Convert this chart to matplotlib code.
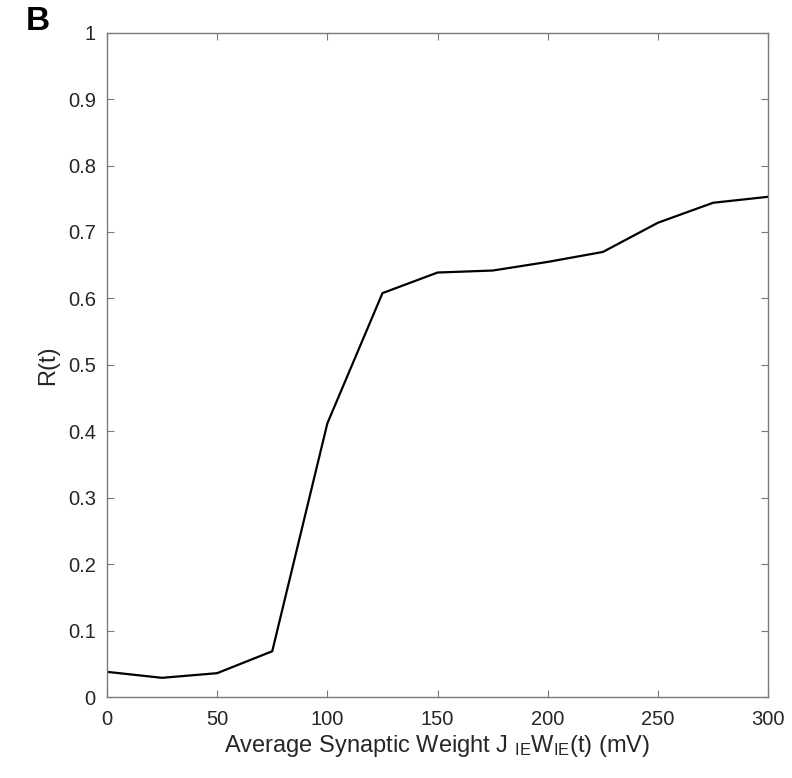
import matplotlib
matplotlib.use('Agg')
import matplotlib.pyplot as plt

plt.rcParams['font.family'] = ['Liberation Sans', 'DejaVu Sans']
plt.rcParams['mathtext.default'] = 'regular'

# values
weights = [0, 25, 50, 75, 100, 125, 150, 175, 200, 225, 250, 275, 300]
r_vals = [0.038, 0.029, 0.036, 0.069, 0.412, 0.608, 0.639, 0.642, 0.655, 0.670, 0.714, 0.744, 0.753]

x_ticks = [0, 50, 100, 150, 200, 250, 300]
y_ticks = [0, 0.1, 0.2, 0.3, 0.4, 0.5, 0.6, 0.7, 0.8, 0.9, 1]
y_labels = ['0', '0.1', '0.2', '0.3', '0.4', '0.5', '0.6', '0.7', '0.8', '0.9', '1']

fig = plt.figure(figsize=(7.92, 7.78), dpi=100)
ax = fig.add_axes([0.135, 0.104, 0.835, 0.854])

ax.plot(weights, r_vals, color='black', linewidth=1.6)

ax.set_xlim(0, 300)
ax.set_ylim(0, 1)
ax.set_xticks(x_ticks)
ax.set_yticks(y_ticks)
ax.set_yticklabels(y_labels)

text_color = '#262626'
ax.tick_params(direction='in', length=5, width=0.8, color='#7a7a7a',
               top=True, right=True, labelsize=14.5, labelcolor=text_color)
ax.tick_params(axis='x', pad=9)
ax.tick_params(axis='y', pad=8)
for s in ax.spines.values():
    s.set_color('#7a7a7a')
    s.set_linewidth(1.0)

ax.set_xlabel(r'Average Synaptic Weight J $_{IE}$W$_{IE}$(t) (mV)',
              fontsize=17, color=text_color, labelpad=3)
ax.set_ylabel('R(t)', fontsize=17, color=text_color, labelpad=6)

fig.text(0.033, 0.972, 'B', fontsize=24, fontweight='bold', color='black', va='center')

fig.savefig('out.png', dpi=100)
